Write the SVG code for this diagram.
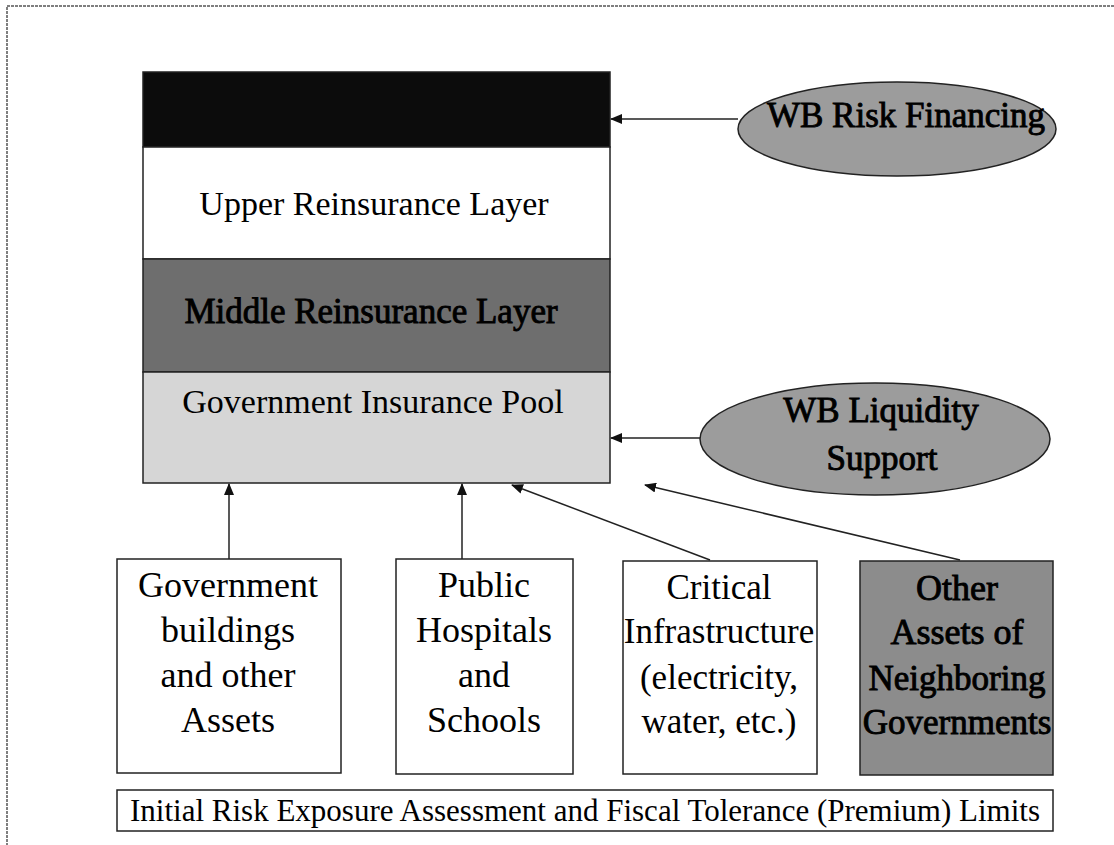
<svg xmlns="http://www.w3.org/2000/svg" width="1114" height="845" viewBox="0 0 1114 845">
<defs>
<marker id="ah" markerWidth="12" markerHeight="10" refX="11" refY="5" orient="auto" markerUnits="userSpaceOnUse">
<path d="M0,0 L12,5 L0,10 Z" fill="#111"/>
</marker>
<style>
.t{font-family:"Liberation Serif","Times New Roman",serif;fill:#000;text-anchor:middle}
.s34{font-size:34px}
.s35{font-size:35px}
.s36{font-size:36px}
.s31{font-size:31px}
.emb{stroke:#000;stroke-width:0.9}
.b{stroke:#222;stroke-width:1.5}
.c{stroke:#222;stroke-width:1.5;fill:none;marker-end:url(#ah)}
</style>
</defs>
<rect width="1114" height="845" fill="#fff"/>
<rect x="7" y="6" width="1130" height="860" fill="none" stroke="#555" stroke-width="1.5" stroke-dasharray="3 1"/>
<g id="layer-top">
<rect x="143" y="72" width="467" height="75" fill="#0c0c0c" class="b"/>
</g>
<g id="layer-upper">
<rect x="143" y="147" width="467" height="112" fill="#fff" class="b"/>
<text class="t s34" x="374" y="215">Upper Reinsurance Layer</text>
</g>
<g id="layer-middle">
<rect x="143" y="259" width="467" height="113" fill="#6e6e6e" class="b"/>
<text class="t s35 emb" x="371" y="323">Middle Reinsurance Layer</text>
</g>
<g id="layer-pool">
<rect x="143" y="372" width="467" height="111" fill="#d6d6d6" class="b"/>
<text class="t s34" x="373" y="413">Government Insurance Pool</text>
</g>
<g id="wb-risk">
<ellipse cx="897" cy="129" rx="159" ry="47" fill="#9c9c9c" class="b"/>
<text class="t s35 emb" x="906" y="127">WB Risk Financing</text>
</g>
<g id="wb-liquidity">
<ellipse cx="875" cy="439" rx="175" ry="56" fill="#9c9c9c" class="b"/>
<text class="t s35 emb" x="881" y="422">WB Liquidity</text>
<text class="t s35 emb" x="882" y="470">Support</text>
</g>
<g id="box-gov">
<rect x="117" y="559" width="224" height="214" fill="#fff" class="b"/>
<text class="t s36" x="228" y="597">Government</text>
<text class="t s36" x="228" y="642">buildings</text>
<text class="t s36" x="228" y="687">and other</text>
<text class="t s36" x="228" y="732">Assets</text>
</g>
<g id="box-public">
<rect x="396" y="559" width="177" height="215" fill="#fff" class="b"/>
<text class="t s36" x="484" y="597">Public</text>
<text class="t s36" x="484" y="642">Hospitals</text>
<text class="t s36" x="484" y="687">and</text>
<text class="t s36" x="484" y="732">Schools</text>
</g>
<g id="box-critical">
<rect x="623" y="561" width="194" height="213" fill="#fff" class="b"/>
<text class="t s35" x="719" y="599">Critical</text>
<text class="t s35" x="719" y="643">Infrastructure</text>
<text class="t s35" x="719" y="689">(electricity,</text>
<text class="t s35" x="719" y="733">water, etc.)</text>
</g>
<g id="box-other">
<rect x="860" y="561" width="193" height="214" fill="#8c8c8c" class="b"/>
<text class="t s36 emb" x="957" y="600">Other</text>
<text class="t s36 emb" x="957" y="644">Assets of</text>
<text class="t s35 emb" x="957" y="690">Neighboring</text>
<text class="t s35 emb" x="957" y="734">Governments</text>
</g>
<g id="banner">
<rect x="117" y="790" width="936" height="41" fill="#fff" class="b"/>
<text class="t s31" x="585" y="821">Initial Risk Exposure Assessment and Fiscal Tolerance (Premium) Limits</text>
</g>
<g id="connectors">
<line x1="738" y1="119" x2="611" y2="119" class="c"/>
<line x1="700" y1="438" x2="611" y2="438" class="c"/>
<line x1="229" y1="559" x2="229" y2="484" class="c"/>
<line x1="462" y1="559" x2="462" y2="484" class="c"/>
<line x1="710" y1="560" x2="512" y2="485" class="c"/>
<line x1="960" y1="560" x2="645" y2="485" class="c"/>
</g>
</svg>
